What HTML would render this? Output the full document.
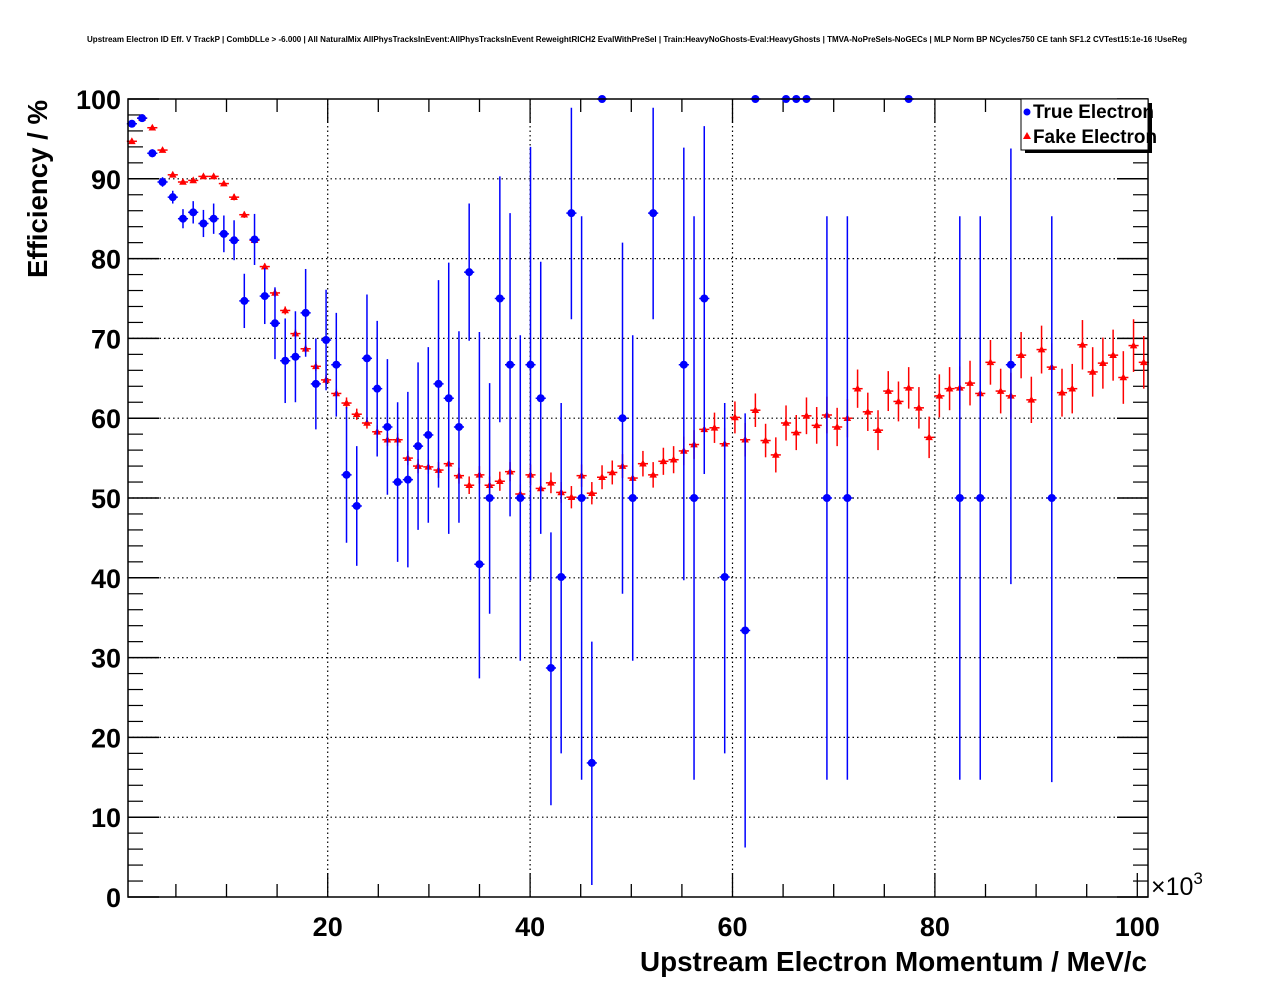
<!DOCTYPE html>
<html><head><meta charset="utf-8"><style>
html,body{margin:0;padding:0;background:#fff;}
svg{display:block;font-family:"Liberation Sans",sans-serif;}
</style></head><body>
<svg id="chart" width="1276" height="996" viewBox="0 0 1276 996" xmlns="http://www.w3.org/2000/svg">
<rect x="0" y="0" width="1276" height="996" fill="#fff"/>
<text x="637" y="42" font-size="8" font-weight="bold" text-anchor="middle" textLength="1100" lengthAdjust="spacingAndGlyphs">Upstream Electron ID Eff. V TrackP | CombDLLe &gt; -6.000 | All NaturalMix AllPhysTracksInEvent:AllPhysTracksInEvent ReweightRICH2 EvalWithPreSel | Train:HeavyNoGhosts-Eval:HeavyGhosts | TMVA-NoPreSels-NoGECs | MLP Norm BP NCycles750 CE tanh SF1.2 CVTest15:1e-16 !UseReg</text>
<g id="grid"></g>
<g id="axes"></g>
<g id="fake"></g>
<g id="true"></g>
<rect x="128" y="99" width="1020" height="798" fill="none" stroke="#000" stroke-width="1.5"/>
<text transform="translate(47,189) rotate(-90)" font-size="28" font-weight="bold" text-anchor="middle" textLength="178" lengthAdjust="spacingAndGlyphs">Efficiency / %</text>
<text x="640" y="971" font-size="28" font-weight="bold" textLength="507" lengthAdjust="spacingAndGlyphs">Upstream Electron Momentum / MeV/c</text>
<text x="1151" y="895" font-size="25">×10<tspan dy="-11" font-size="17">3</tspan></text>
<g>
<rect x="1025" y="103" width="127" height="50" fill="#000"/>
<rect x="1021" y="99" width="127" height="51" fill="#fff" stroke="#000" stroke-width="1"/>
<circle cx="1027" cy="112" r="3.5" fill="#00f"/>
<text x="1033" y="118" font-size="19" font-weight="bold" textLength="121" lengthAdjust="spacingAndGlyphs">True Electron</text>
<polygon points="1027,132 1031,139 1023,139" fill="#f00"/>
<text x="1033" y="143" font-size="19" font-weight="bold" textLength="124" lengthAdjust="spacingAndGlyphs">Fake Electron</text>
</g>
</svg>
<script>
const binCenters=[0.65,1.66,2.67,3.68,4.69,5.7,6.71,7.72,8.73,9.74,10.75,11.76,12.77,13.78,14.79,15.8,16.81,17.82,18.83,19.84,20.85,21.86,22.87,23.88,24.89,25.9,26.91,27.92,28.93,29.94,30.95,31.96,32.97,33.98,34.99,36.0,37.01,38.02,39.03,40.04,41.05,42.06,43.07,44.08,45.09,46.1,47.11,48.12,49.13,50.14,51.15,52.16,53.17,54.18,55.19,56.2,57.21,58.22,59.23,60.24,61.25,62.26,63.27,64.28,65.29,66.3,67.31,68.32,69.33,70.34,71.35,72.36,73.37,74.38,75.39,76.4,77.41,78.42,79.43,80.44,81.45,82.46,83.47,84.48,85.49,86.5,87.51,88.52,89.53,90.54,91.55,92.56,93.57,94.58,95.59,96.6,97.61,98.62,99.63,100.64];
const fakeValues=[94.7,97.6,96.4,93.6,90.5,89.6,89.8,90.3,90.3,89.4,87.7,85.5,82.3,79.0,75.7,73.5,70.6,68.7,66.5,64.8,63.1,61.9,60.5,59.4,58.3,57.3,57.3,55.0,54.0,53.9,53.5,54.3,52.8,51.6,52.9,51.6,52.1,53.3,50.5,52.9,51.2,51.9,50.7,50.1,52.8,50.6,52.6,53.2,54.0,52.5,54.3,52.9,54.6,54.8,55.9,56.7,58.6,58.8,56.8,60.1,57.3,61.0,57.2,55.4,59.4,58.2,60.3,59.1,60.4,58.9,60.0,63.7,60.8,58.5,63.4,62.1,63.8,61.3,57.6,62.8,63.7,63.8,64.4,63.1,67.0,63.4,62.8,67.9,62.3,68.6,66.4,63.2,63.7,69.2,65.8,66.9,67.9,65.1,69.1,67.0];
const fakeErrors=[0.3,0.3,0.3,0.3,0.3,0.3,0.3,0.3,0.3,0.3,0.4,0.4,0.4,0.4,0.5,0.5,0.5,0.5,0.6,0.6,0.6,0.7,0.7,0.7,0.8,0.8,0.8,0.9,0.9,0.9,1.0,1.0,1.0,1.1,1.1,1.1,1.2,1.2,1.2,1.3,1.3,1.3,1.3,1.4,1.4,1.4,1.5,1.5,1.5,1.6,1.6,1.6,1.7,1.7,1.8,1.8,1.9,1.9,2.0,2.0,2.1,2.1,2.1,2.2,2.2,2.2,2.3,2.3,2.3,2.4,2.4,2.4,2.4,2.5,2.5,2.5,2.6,2.6,2.6,2.7,2.7,2.7,2.8,2.8,2.8,2.8,2.9,2.9,2.9,3.0,3.0,3.0,3.1,3.1,3.1,3.2,3.2,3.3,3.3,3.3];
const trueIndex=[0,1,2,3,4,5,6,7,8,9,10,11,12,13,14,15,16,17,18,19,20,21,22,23,24,25,26,27,28,29,30,31,32,33,34,35,36,37,38,39,40,41,42,43,44,45,46,48,49,51,54,55,56,58,60,61,64,65,66,68,70,76,81,83,86,90];
const trueValues=[96.9,97.6,93.2,89.6,87.7,85.0,85.8,84.4,85.0,83.1,82.3,74.7,82.4,75.3,71.9,67.2,67.7,73.2,64.3,69.8,66.7,52.9,49.0,67.5,63.7,58.9,52.0,52.3,56.5,57.9,64.3,62.5,58.9,78.3,41.7,50.0,75.0,66.7,50.0,66.7,62.5,28.7,40.1,85.7,50.0,16.8,100,60.0,50.0,85.7,66.7,50.0,75.0,40.1,33.4,100,100,100,100,50.0,50.0,100,50.0,50.0,66.7,50.0];
const trueErrLow=[0.4,0.4,0.5,0.6,0.8,1.2,1.4,1.7,1.9,2.3,2.5,3.4,3.2,3.5,4.5,5.3,5.7,5.5,5.7,6.3,6.5,8.5,7.5,8,8.5,8.5,10,11,10.5,11,13,17,12,8.6,14.3,14.5,15.5,19,20.4,27,17,17.2,22.1,13.3,35.3,15.3,0,22,20.4,13.3,27,35.3,22,22.1,27.2,0,0,0,0,35.3,35.3,0,35.3,35.3,27.5,35.6];
const trueErrHigh=[0.4,0.4,0.5,0.6,0.8,1.2,1.4,1.7,1.9,2.3,2.5,3.4,3.2,3.5,4.5,5.3,5.7,5.5,5.7,6.3,6.5,8.5,7.5,8,8.5,8.5,10,11,10.5,11,13,17,12,8.6,29.1,14.4,15.3,19,20.4,27.3,17.1,17,21.8,13.2,35.3,15.2,0,22,20.4,13.2,27.2,35.3,21.6,21.8,27.2,0,0,0,0,35.3,35.3,0,35.3,35.3,27.1,35.3];
const yTicks=[0,10,20,30,40,50,60,70,80,90,100];
const xTicks=[20,40,60,80,100];

const NS='http://www.w3.org/2000/svg';
const X0=125.3,XS=10.12,Y0=897,YS=7.98;
function xp(v){return X0+v*XS;}
function yp(v){return Y0-v*YS;}
function mk(tag,attrs,parent){const e=document.createElementNS(NS,tag);for(const k in attrs)e.setAttribute(k,attrs[k]);parent.appendChild(e);return e;}
const grid=document.getElementById('grid'),axes=document.getElementById('axes');
const L=128,R=1148,T=99,B=897;
yTicks.forEach(t=>{
  const y=yp(t);
  if(t>0&&t<100){const g=mk('line',{x1:L,x2:R,y1:y,y2:y,stroke:'#000','stroke-width':1.2,'stroke-dasharray':'1.5,3'},grid);
  
  }
  const a=mk('line',{x1:L,x2:L+31,y1:y,y2:y,stroke:'#000','stroke-width':1.5},axes);
  
  
  const b=mk('line',{x1:R-31,x2:R,y1:y,y2:y,stroke:'#000','stroke-width':1.5},axes);
  
  
  const lb=mk('text',{x:121,y:y+10,'font-size':27,'font-weight':'bold','text-anchor':'end'},axes);
  lb.textContent=t;
  
  
  if(t<100){for(let m=2;m<10;m+=2){const ym=yp(t+m);
    const c=mk('line',{x1:L,x2:L+15,y1:ym,y2:ym,stroke:'#000','stroke-width':1.2},axes);
    
    
    const d=mk('line',{x1:R-15,x2:R,y1:ym,y2:ym,stroke:'#000','stroke-width':1.2},axes);
    
    }}
});
for(let v=5;v<=100;v+=5){
  const x=xp(v);const maj=(v%20===0);const len=maj?24:13;
  if(maj&&v<100){const g=mk('line',{x1:x,x2:x,y1:T,y2:B,stroke:'#000','stroke-width':1.2,'stroke-dasharray':'1.5,3'},grid);
    
    }
  const a=mk('line',{x1:x,x2:x,y1:B-len,y2:B,stroke:'#000','stroke-width':1.3},axes);
  
  
  const b=mk('line',{x1:x,x2:x,y1:T,y2:T+len,stroke:'#000','stroke-width':1.3},axes);
  
  
}
xTicks.forEach(t=>{
  const lb=mk('text',{x:xp(t),y:936,'font-size':27,'font-weight':'bold','text-anchor':'middle'},axes);
  lb.textContent=t;
  
  
});
const fake=document.getElementById('fake');
const hw=0.5*XS;
fakeValues.forEach((v,i)=>{
  const x=xp(binCenters[i]),y=yp(v),e=fakeErrors[i];
  const g=mk('g',{},fake);
  
  
  mk('line',{x1:x-hw,x2:x+hw,y1:y,y2:y,stroke:'#f00','stroke-width':1.5},g);
  mk('line',{x1:x,x2:x,y1:yp(v+e),y2:yp(v-e),stroke:'#f00','stroke-width':1.5},g);
  mk('polygon',{points:`${x},${y-4} ${x+3.8},${y+2.8} ${x-3.8},${y+2.8}`,fill:'#f00'},g);
});
const tr=document.getElementById('true');
trueValues.forEach((v,k)=>{
  const x=xp(binCenters[trueIndex[k]]),y=yp(v);
  const g=mk('g',{},tr);
  
  
  mk('line',{x1:x-hw,x2:x+hw,y1:y,y2:y,stroke:'#00f','stroke-width':1.5},g);
  mk('line',{x1:x,x2:x,y1:yp(Math.min(100,v+trueErrHigh[k])),y2:yp(v-trueErrLow[k]),stroke:'#00f','stroke-width':1.5},g);
  mk('circle',{cx:x,cy:y,r:4,fill:'#00f'},g);
});
</script>
</body></html>
